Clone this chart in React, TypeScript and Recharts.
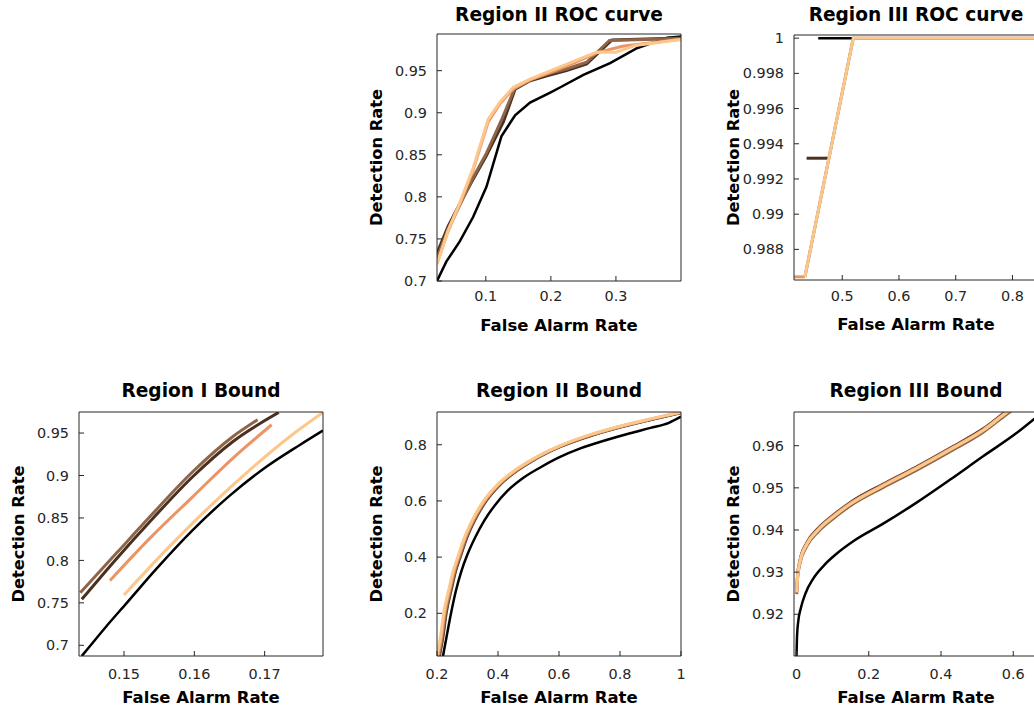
import { LineChart, Line, XAxis, YAxis, Label } from 'recharts';

type Pt = [number, number];

const FONT = '"DejaVu Sans", sans-serif';
const INK = '#262626';
// black + copper-like colours, drawn in this order
const COLORS = ['#000000', '#4a3020', '#8e6548', '#eb9566', '#fcc78a'];
const WIDTHS = [2.5, 3, 3, 3, 3];

// Region II ROC curve
const r2RocBlack: Pt[] = [[0.025, 0.7], [0.0393, 0.723], [0.06, 0.747], [0.0805, 0.776], [0.101, 0.812], [0.124, 0.872], [0.145, 0.897], [0.168, 0.912], [0.199, 0.924], [0.214, 0.93], [0.25, 0.945], [0.291, 0.959], [0.333, 0.977], [0.379, 0.9893], [0.4, 0.9905]];
const r2RocC1: Pt[] = [[0.025, 0.733], [0.042, 0.765], [0.06, 0.792], [0.0805, 0.821], [0.101, 0.849], [0.127, 0.889], [0.145, 0.928], [0.168, 0.938], [0.194, 0.944], [0.224, 0.95], [0.255, 0.958], [0.294, 0.9866], [0.4, 0.9888]];
const r2RocC2: Pt[] = [[0.025, 0.727], [0.042, 0.762], [0.06, 0.79], [0.0805, 0.823], [0.101, 0.852], [0.125, 0.893], [0.145, 0.93], [0.168, 0.939], [0.194, 0.946], [0.224, 0.952], [0.255, 0.96], [0.29, 0.986], [0.4, 0.9882]];
const r2RocC3: Pt[] = [[0.025, 0.721], [0.042, 0.759], [0.06, 0.791], [0.0805, 0.832], [0.1036, 0.889], [0.122, 0.911], [0.142, 0.928], [0.168, 0.939], [0.2, 0.948], [0.235, 0.959], [0.27, 0.971], [0.31, 0.979], [0.4, 0.9875]];
const r2RocC4: Pt[] = [[0.025, 0.72], [0.042, 0.76], [0.06, 0.793], [0.0805, 0.834], [0.1036, 0.892], [0.122, 0.913], [0.142, 0.93], [0.168, 0.94], [0.2, 0.95], [0.235, 0.961], [0.27, 0.972], [0.3, 0.972], [0.33, 0.98], [0.4, 0.987]];

// Region III ROC curve
const r3RocBlack: Pt[] = [[0.4577, 1.0], [0.85, 1.0]];
const r3RocC1: Pt[] = [[0.4372, 0.99318], [0.4753, 0.99318]];
const r3RocC2: Pt[] = [[0.4342, 0.98644], [0.5194, 1.0], [0.85, 1.0]];
const r3RocC3: Pt[] = [[0.41, 0.98644], [0.4342, 0.98644]];
const r3RocC4: Pt[] = [[0.4342, 0.98644], [0.5194, 1.0], [0.85, 1.0]];

// Region I Bound
const r1Black: Pt[] = [[0.144, 0.6874], [0.1452, 0.6995], [0.1475, 0.7225], [0.1504, 0.75], [0.1546, 0.79], [0.1598, 0.836], [0.165, 0.876], [0.1702, 0.91], [0.175, 0.936], [0.1783, 0.953]];
const r1C1: Pt[] = [[0.144, 0.7542], [0.149, 0.8026], [0.1537, 0.8458], [0.1598, 0.8988], [0.1655, 0.9401], [0.172, 0.9743]];
const r1C2: Pt[] = [[0.1438, 0.762], [0.149, 0.8092], [0.1537, 0.8517], [0.1598, 0.9047], [0.1655, 0.946], [0.169, 0.9657]];
const r1C3: Pt[] = [[0.148, 0.7762], [0.1537, 0.8262], [0.1598, 0.8752], [0.1655, 0.9205], [0.171, 0.9598]];
const r1C4: Pt[] = [[0.15, 0.7593], [0.156, 0.8124], [0.1617, 0.8596], [0.1679, 0.9067], [0.1736, 0.946], [0.1783, 0.9743]];

// Region II Bound
const r2Black: Pt[] = [[0.2197, 0.048], [0.232, 0.12], [0.246, 0.2], [0.262, 0.28], [0.28, 0.35], [0.3, 0.41], [0.325, 0.47], [0.355, 0.53], [0.39, 0.585], [0.43, 0.635], [0.48, 0.68], [0.54, 0.72], [0.6, 0.755], [0.67, 0.787], [0.75, 0.815], [0.83, 0.84], [0.9, 0.86], [0.96, 0.878], [1.0, 0.9]];
const r2C1: Pt[] = [[0.208, 0.048], [0.22, 0.12], [0.23, 0.2], [0.248, 0.29], [0.261, 0.35], [0.276, 0.4], [0.298, 0.47], [0.323, 0.53], [0.361, 0.6], [0.408, 0.66], [0.458, 0.705], [0.508, 0.74], [0.558, 0.77], [0.608, 0.795], [0.708, 0.834], [0.808, 0.865], [0.906, 0.891], [1.0, 0.914]];
const r2C2: Pt[] = [[0.206, 0.048], [0.218, 0.12], [0.228, 0.2], [0.246, 0.29], [0.259, 0.35], [0.274, 0.4], [0.296, 0.47], [0.321, 0.53], [0.359, 0.6], [0.406, 0.66], [0.456, 0.705], [0.506, 0.74], [0.556, 0.77], [0.606, 0.795], [0.706, 0.834], [0.806, 0.865], [0.905, 0.891], [1.0, 0.915]];
const r2C3: Pt[] = [[0.203, 0.048], [0.215, 0.12], [0.225, 0.2], [0.243, 0.29], [0.256, 0.35], [0.271, 0.4], [0.293, 0.47], [0.318, 0.53], [0.356, 0.6], [0.403, 0.66], [0.453, 0.705], [0.503, 0.74], [0.553, 0.77], [0.603, 0.795], [0.703, 0.835], [0.803, 0.866], [0.903, 0.892], [1.0, 0.916]];
const r2C4: Pt[] = [[0.2, 0.05], [0.212, 0.12], [0.222, 0.2], [0.24, 0.29], [0.253, 0.35], [0.268, 0.4], [0.29, 0.47], [0.315, 0.53], [0.353, 0.6], [0.4, 0.66], [0.45, 0.705], [0.5, 0.74], [0.55, 0.77], [0.6, 0.795], [0.7, 0.835], [0.8, 0.866], [0.9, 0.892], [1.0, 0.916]];

// Region III Bound
const r3Black: Pt[] = [[0.0, 0.9101], [0.0015, 0.915], [0.005, 0.9185], [0.012, 0.9215], [0.025, 0.925], [0.045, 0.9283], [0.075, 0.9315], [0.11, 0.9343], [0.16, 0.9375], [0.24, 0.9415], [0.3323, 0.9465], [0.4244, 0.9519], [0.5165, 0.9575], [0.609, 0.963], [0.67, 0.9672]];
const r3C1: Pt[] = [[0.0005, 0.9256], [0.003, 0.9294], [0.0097, 0.9329], [0.028, 0.9369], [0.06, 0.9404], [0.1, 0.9434], [0.15, 0.9466], [0.24, 0.9509], [0.33, 0.9549], [0.4244, 0.9594], [0.5165, 0.964], [0.581, 0.9682], [0.6, 0.9694]];
const r3C2: Pt[] = [[0.0005, 0.9248], [0.003, 0.9286], [0.0097, 0.9321], [0.028, 0.9361], [0.06, 0.9396], [0.1, 0.9426], [0.15, 0.9458], [0.24, 0.9501], [0.33, 0.9541], [0.4244, 0.9586], [0.5165, 0.9632], [0.581, 0.9674], [0.6, 0.9686]];
const r3C3: Pt[] = [[0.0005, 0.9254], [0.003, 0.9292], [0.0097, 0.9327], [0.028, 0.9367], [0.06, 0.9402], [0.1, 0.9432], [0.15, 0.9464], [0.24, 0.9507], [0.33, 0.9547], [0.4244, 0.9592], [0.5165, 0.9638], [0.581, 0.968], [0.6, 0.9692]];
const r3C4: Pt[] = [[0.0005, 0.9252], [0.003, 0.929], [0.0097, 0.9325], [0.028, 0.9365], [0.06, 0.94], [0.1, 0.943], [0.15, 0.9462], [0.24, 0.9505], [0.33, 0.9545], [0.4244, 0.959], [0.5165, 0.9636], [0.581, 0.9678], [0.6, 0.969]];

const toRows = (pts: Pt[]) => pts.map(([x, y]) => ({ x, y }));

interface PanelProps {
  title: string;
  left: number;
  top: number;
  width: number;
  height: number;
  xDomain: [number, number];
  yDomain: [number, number];
  xTicks: number[];
  yTicks: number[];
  series: Pt[][];
  curve: 'linear' | 'monotone';
  titleGap: number;
  tickGap: number;
  xLabelGap: number;
}

const ML = 90;
const MT = 40;
const MB = 70;
const MR = 10;

function Panel(p: PanelProps) {
  const tickStyle = { fill: INK, fontSize: 14.4, fontFamily: FONT };
  return (
    <div style={{ position: 'absolute', left: p.left - ML, top: p.top - MT }}>
      <LineChart width={ML + p.width + MR} height={MT + p.height + MB} margin={{ top: MT - 1, right: MR - 1, bottom: 0, left: 0 }}>
        <XAxis
          xAxisId="b"
          dataKey="x"
          type="number"
          domain={p.xDomain}
          ticks={p.xTicks}
          allowDataOverflow
          interval={0}
          height={MB}
          tickSize={-5}
          tickMargin={p.tickGap}
          stroke={INK}
          tick={tickStyle}
        >
          <Label
            content={({ viewBox }: any) => (
              <text x={viewBox.x + viewBox.width / 2} y={viewBox.y + p.xLabelGap} textAnchor="middle" fontFamily={FONT} fontWeight="bold" fontSize={16.5} fill="#000">
                False Alarm Rate
              </text>
            )}
          />
        </XAxis>
        {/* box top edge with inward ticks, carries the title */}
        <XAxis xAxisId="t" orientation="top" type="number" domain={p.xDomain} ticks={p.xTicks} allowDataOverflow interval={0} height={1} tick={false} tickSize={-5} stroke={INK}>
          <Label
            content={({ viewBox }: any) => (
              <text x={viewBox.x + viewBox.width / 2} y={viewBox.y + viewBox.height - p.titleGap} textAnchor="middle" fontFamily={FONT} fontWeight="bold" fontSize={18.6} fill="#000">
                {p.title}
              </text>
            )}
          />
        </XAxis>
        <YAxis
          yAxisId="l"
          type="number"
          domain={p.yDomain}
          ticks={p.yTicks}
          allowDataOverflow
          interval={0}
          width={ML}
          tickSize={-5}
          tickMargin={15}
          stroke={INK}
          tick={tickStyle}
        >
          <Label
            content={({ viewBox }: any) => {
              const cx = viewBox.x + viewBox.width - 61;
              const cy = viewBox.y + viewBox.height / 2;
              return (
                <text x={cx} y={cy} transform={`rotate(-90, ${cx}, ${cy})`} textAnchor="middle" dominantBaseline="central" fontFamily={FONT} fontWeight="bold" fontSize={16.3} fill="#000">
                  Detection Rate
                </text>
              );
            }}
          />
        </YAxis>
        {/* box right edge with inward ticks */}
        <YAxis yAxisId="r" orientation="right" type="number" domain={p.yDomain} ticks={p.yTicks} allowDataOverflow interval={0} width={1} tick={false} tickSize={-5} stroke={INK} />
        {p.series.map((s, i) => (
          <Line
            key={i}
            xAxisId="b"
            yAxisId="l"
            data={toRows(s)}
            dataKey="y"
            type={p.curve}
            stroke={COLORS[i]}
            strokeWidth={WIDTHS[i]}
            dot={false}
            activeDot={false}
            isAnimationActive={false}
          />
        ))}
      </LineChart>
    </div>
  );
}

export default function App() {
  return (
    <div style={{ position: 'absolute', left: 0, top: 0, width: 1034, height: 713, overflow: 'hidden', background: '#fff' }}>
      <Panel
        title="Region II ROC curve"
        left={437}
        top={34}
        width={244}
        height={247}
        xDomain={[0.025, 0.4]}
        yDomain={[0.7, 0.9936]}
        xTicks={[0.1, 0.2, 0.3]}
        yTicks={[0.7, 0.75, 0.8, 0.85, 0.9, 0.95]}
        series={[r2RocBlack, r2RocC1, r2RocC2, r2RocC3, r2RocC4]}
        curve="linear"
        titleGap={13.3}
        tickGap={15}
        xLabelGap={50}
      />
      <Panel
        title="Region III ROC curve"
        left={794}
        top={35}
        width={244}
        height={245}
        xDomain={[0.415, 0.845]}
        yDomain={[0.98626, 1.00018]}
        xTicks={[0.5, 0.6, 0.7, 0.8]}
        yTicks={[0.988, 0.99, 0.992, 0.994, 0.996, 0.998, 1]}
        series={[r3RocBlack, r3RocC1, r3RocC2, r3RocC3, r3RocC4]}
        curve="linear"
        titleGap={14.3}
        tickGap={16}
        xLabelGap={50}
      />
      <Panel
        title="Region I Bound"
        left={79}
        top={412}
        width={244}
        height={244}
        xDomain={[0.1436, 0.1783]}
        yDomain={[0.6874, 0.9748]}
        xTicks={[0.15, 0.16, 0.17]}
        yTicks={[0.7, 0.75, 0.8, 0.85, 0.9, 0.95]}
        series={[r1Black, r1C1, r1C2, r1C3, r1C4]}
        curve="monotone"
        titleGap={15.3}
        tickGap={18}
        xLabelGap={47}
      />
      <Panel
        title="Region II Bound"
        left={437}
        top={412}
        width={244}
        height={244}
        xDomain={[0.2, 1]}
        yDomain={[0.048, 0.9166]}
        xTicks={[0.2, 0.4, 0.6, 0.8, 1]}
        yTicks={[0.2, 0.4, 0.6, 0.8]}
        series={[r2Black, r2C1, r2C2, r2C3, r2C4]}
        curve="monotone"
        titleGap={15.3}
        tickGap={18}
        xLabelGap={47}
      />
      <Panel
        title="Region III Bound"
        left={794}
        top={412}
        width={244}
        height={244}
        xDomain={[-0.007, 0.6685]}
        yDomain={[0.9101, 0.968]}
        xTicks={[0, 0.2, 0.4, 0.6]}
        yTicks={[0.92, 0.93, 0.94, 0.95, 0.96]}
        series={[r3Black, r3C1, r3C2, r3C3, r3C4]}
        curve="monotone"
        titleGap={15.3}
        tickGap={18}
        xLabelGap={47}
      />
    </div>
  );
}
